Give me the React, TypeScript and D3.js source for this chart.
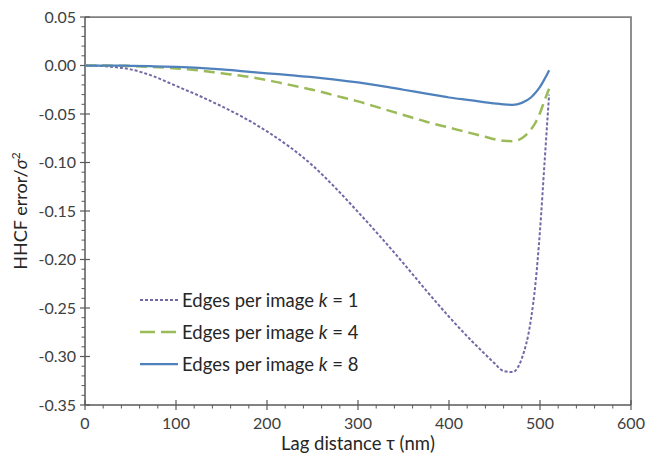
import React from "react";
import * as d3 from "d3";

const lagNm = [0, 25, 50, 75, 100, 125, 150, 175, 200, 225, 250, 275, 300, 325, 350, 375, 400, 425, 440, 450, 460, 470, 480, 490, 495, 500, 505, 510];
const errK1 = [0, -0.001, -0.004, -0.011, -0.021, -0.031, -0.042, -0.054, -0.068, -0.084, -0.103, -0.126, -0.151, -0.177, -0.204, -0.232, -0.259, -0.284, -0.298, -0.307, -0.315, -0.316, -0.302, -0.262, -0.225, -0.17, -0.1, -0.03];
const errK4 = [0, -0.0001, -0.0005, -0.0015, -0.003, -0.005, -0.008, -0.011, -0.015, -0.02, -0.025, -0.031, -0.037, -0.044, -0.051, -0.058, -0.064, -0.07, -0.0735, -0.076, -0.0775, -0.078, -0.075, -0.066, -0.059, -0.049, -0.036, -0.024];
const errK8 = [0, 0, -0.0003, -0.0008, -0.0015, -0.0025, -0.004, -0.006, -0.008, -0.01, -0.012, -0.0145, -0.0175, -0.021, -0.025, -0.029, -0.033, -0.036, -0.038, -0.039, -0.04, -0.0405, -0.0385, -0.033, -0.028, -0.022, -0.014, -0.005];
const seriesLabels = ["1", "4", "8"];
const xTicks = [0, 100, 200, 300, 400, 500, 600];
const yTicks = [0.05, 0, -0.05, -0.1, -0.15, -0.2, -0.25, -0.3, -0.35];

const W = 645, H = 459;
const M = { left: 85, right: 631, top: 17, bottom: 405 };
const FONT = "Lato, 'Open Sans', sans-serif";

export default function App() {
  const x = d3.scaleLinear().domain([0, 600]).range([M.left, M.right]);
  const y = d3.scaleLinear().domain([-0.35, 0.05]).range([M.bottom, M.top]);
  const line = d3.line<number>().x((_, i) => x(lagNm[i])).y((d) => y(d)).curve(d3.curveMonotoneX);

  const series = [
    { vals: errK1, color: "#7367a6", dash: "3,2", w: 2 },
    { vals: errK4, color: "#9bbb59", dash: "11,6", w: 2.5 },
    { vals: errK8, color: "#4f81bd", dash: "", w: 2.25 },
  ];

  const xMinor = d3.range(0, 601, 20).filter((v) => v % 100 !== 0);
  const yMinor = d3.range(-35, 6, 1).filter((v) => v % 5 !== 0).map((v) => v / 100);
  const axisColor = "#595959";

  return (
    <svg width={W} height={H} style={{ position: "absolute", left: 0, top: 0, background: "#fff" }} fontFamily={FONT}>
      <path d={`M${M.left},${M.top}H${M.right}V${M.bottom}`} fill="none" stroke="#808080" strokeWidth={1.75} />
      <line x1={M.left} x2={M.right} y1={M.bottom} y2={M.bottom} stroke={axisColor} strokeWidth={1.5} />
      <line x1={M.left} x2={M.left} y1={M.top} y2={M.bottom} stroke={axisColor} strokeWidth={1.5} />
      {xTicks.map((t) => (
        <g key={"xt" + t}>
          <line x1={x(t)} x2={x(t)} y1={M.bottom - 5} y2={M.bottom + 5} stroke={axisColor} strokeWidth={1.2} />
          <text x={x(t)} y={M.bottom + 24} textAnchor="middle" fontSize={16} fill="#404040">{t}</text>
        </g>
      ))}
      {xMinor.map((t) => (
        <line key={"xm" + t} x1={x(t)} x2={x(t)} y1={M.bottom} y2={M.bottom + 3.5} stroke={axisColor} strokeWidth={1} />
      ))}
      {yTicks.map((t) => (
        <g key={"yt" + t}>
          <line x1={M.left - 5} x2={M.left + 5} y1={y(t)} y2={y(t)} stroke={axisColor} strokeWidth={1.2} />
          <text x={M.left - 9} y={y(t) + 5.5} textAnchor="end" fontSize={16} fill="#404040">{d3.format(".2f")(t).replace("−", "-")}</text>
        </g>
      ))}
      {yMinor.map((t) => (
        <line key={"ym" + t} x1={M.left - 3.5} x2={M.left} y1={y(t)} y2={y(t)} stroke={axisColor} strokeWidth={1} />
      ))}
      {series.map((s, i) => (
        <path key={"s" + i} d={line(s.vals) || ""} fill="none" stroke={s.color} strokeWidth={s.w} strokeDasharray={s.dash} />
      ))}
      {series.map((s, i) => (
        <g key={"lg" + i} transform={`translate(140,${300 + i * 32})`}>
          <line x1={0} x2={38} y1={0} y2={0} stroke={s.color} strokeWidth={s.w} strokeDasharray={i === 1 ? "15,6" : s.dash} />
          <text x={42} y={6.5} fontSize={18.5} fill="#262626">
            Edges per image <tspan fontStyle="italic">k</tspan> = {seriesLabels[i]}
          </text>
        </g>
      ))}
      <text x={(M.left + M.right) / 2} y={450} textAnchor="middle" fontSize={18.5} fill="#262626">Lag distance τ (nm)</text>
      <text transform={`translate(27,${(M.top + M.bottom) / 2}) rotate(-90)`} textAnchor="middle" fontSize={18} fill="#262626">
        HHCF error/<tspan fontStyle="italic">σ</tspan><tspan fontSize={12} dy={-7}>2</tspan>
      </text>
    </svg>
  );
}
